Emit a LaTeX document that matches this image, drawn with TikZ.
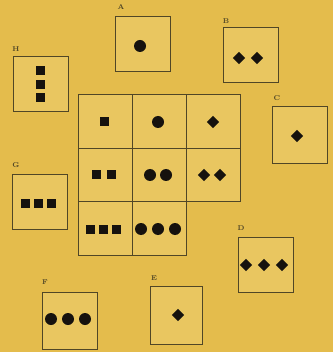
\documentclass[tikz,border=0pt]{standalone}
\usetikzlibrary{positioning,shapes.geometric}
\definecolor{PaperGold}{RGB}{228,188,76}
\definecolor{CardGold}{RGB}{233,198,96}
\definecolor{InkOlive}{RGB}{80,70,38}
\definecolor{PipInk}{RGB}{22,18,14}

\tikzset{
  card/.style={draw=InkOlive, line width=1pt, fill=CardGold, inner sep=0pt,
               minimum width=55pt, minimum height=55pt},
  cell/.style={draw=InkOlive, line width=0.9pt, inner sep=0pt,
               minimum width=54pt, minimum height=53.5pt},
  sqpip/.style={fill=PipInk, inner sep=0pt, minimum size=9pt},
  dotpip/.style={circle, fill=PipInk, inner sep=0pt, minimum size=12pt},
  diapip/.style={diamond, fill=PipInk, inner sep=0pt, minimum size=12.5pt},
  tag/.style={text=InkOlive, font=\scriptsize\bfseries, inner sep=0pt}
}

\begin{document}
\begin{tikzpicture}[x=1pt,y=-1pt, every node/.style={align=center}]
  \fill[PaperGold] (0,0) rectangle (333,352);
  \useasboundingbox (0,0) rectangle (333,352);

  % the 3x3 grid, last cell left empty
  \fill[CardGold] (78,94.5) rectangle (240,202) (78,202) rectangle (186,255.5);
  \node[cell] (g11) at (105,121.25) {};
  \node[cell] (g12) at (159,121.25) {};
  \node[cell] (g13) at (213,121.25) {};
  \node[cell] (g21) at (105,174.75) {};
  \node[cell] (g22) at (159,174.75) {};
  \node[cell] (g23) at (213,174.75) {};
  \node[cell] (g31) at (105,228.25) {};
  \node[cell] (g32) at (159,228.25) {};

  \node[sqpip]  (p11)  at (104,122) {};
  \node[dotpip] (p12)  at (158,122) {};
  \node[diapip] (p13)  at (213,122) {};
  \node[sqpip]  (p21a) at (96,175) {};
  \node[sqpip]  (p21b) at (111,175) {};
  \node[dotpip] (p22a) at (150,175) {};
  \node[dotpip] (p22b) at (166,175) {};
  \node[diapip] (p23a) at (204,175) {};
  \node[diapip] (p23b) at (220,175) {};
  \node[sqpip]  (p31a) at (90,229) {};
  \node[sqpip]  (p31b) at (103,229) {};
  \node[sqpip]  (p31c) at (116,229) {};
  \node[dotpip] (p32a) at (141,229) {};
  \node[dotpip] (p32b) at (158,229) {};
  \node[dotpip] (p32c) at (175,229) {};

  % answer cards
  \node[card] (cardA) at (143,44.5) {};
  \node[card] (cardB) at (250.5,55.5) {};
  \node[card] (cardH) at (40.5,84.5) {};
  \node[card, minimum height=57pt] (cardC) at (299.5,135.5) {};
  \node[card] (cardG) at (40,202) {};
  \node[card] (cardD) at (265.5,265) {};
  \node[card, minimum height=57pt] (cardF) at (69.5,320.5) {};
  \node[card, minimum width=52pt, minimum height=58pt] (cardE) at (176,315) {};

  \node[tag] (tagA) at (121,7) {A};
  \node[tag] (tagB) at (226,21) {B};
  \node[tag] (tagH) at (16,49) {H};
  \node[tag] (tagC) at (277,98) {C};
  \node[tag] (tagG) at (16,165) {G};
  \node[tag] (tagD) at (241,228) {D};
  \node[tag] (tagF) at (45,282) {F};
  \node[tag] (tagE) at (154,278) {E};

  \node[dotpip] (pA)  at (140,46) {};
  \node[diapip] (pBa) at (239,58) {};
  \node[diapip] (pBb) at (257,58) {};
  \node[sqpip]  (pHa) at (40,71) {};
  \node[sqpip]  (pHb) at (40,85) {};
  \node[sqpip]  (pHc) at (40,98) {};
  \node[diapip] (pC)  at (297,136) {};
  \node[sqpip]  (pGa) at (25,203) {};
  \node[sqpip]  (pGb) at (38,203) {};
  \node[sqpip]  (pGc) at (51,203) {};
  \node[diapip] (pDa) at (246,265) {};
  \node[diapip] (pDb) at (264,265) {};
  \node[diapip] (pDc) at (282,265) {};
  \node[dotpip] (pFa) at (51,319) {};
  \node[dotpip] (pFb) at (68,319) {};
  \node[dotpip] (pFc) at (85,319) {};
  \node[diapip] (pE)  at (178,315) {};
\end{tikzpicture}
\end{document}
